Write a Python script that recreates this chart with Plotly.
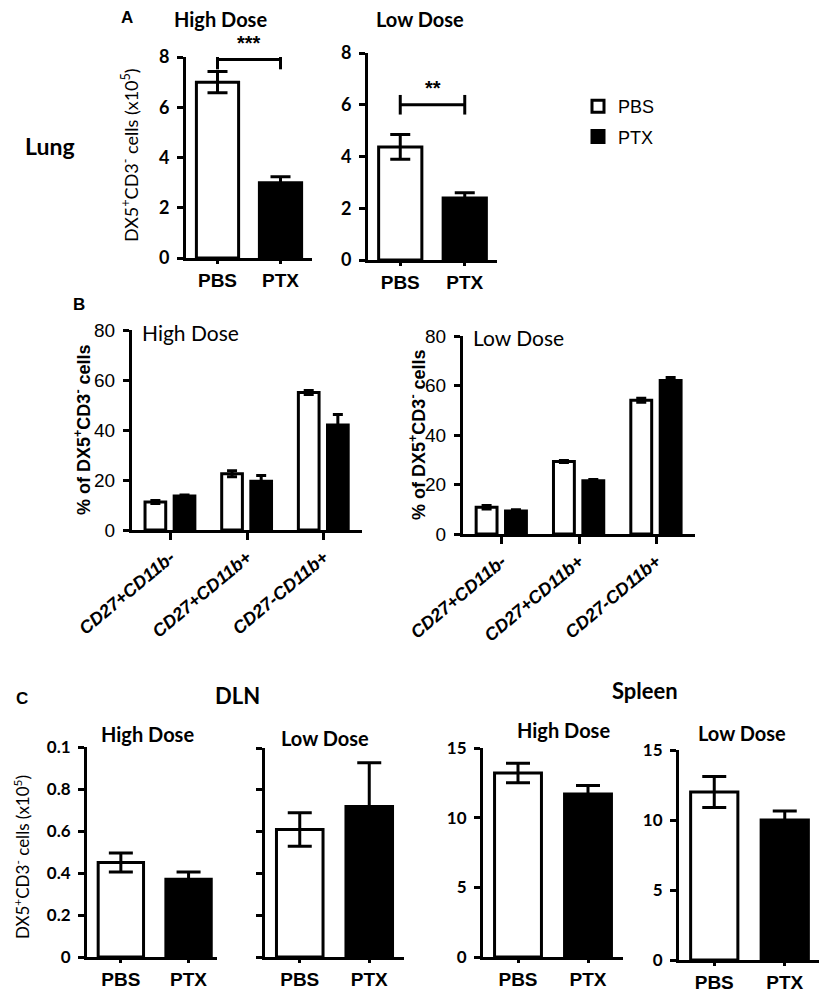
import plotly.graph_objects as go

# ---- data ----
groups = ["PBS", "PTX"]

lung_high = [7.0, 3.0]
lung_high_err = [0.42, 0.23]
lung_low = [4.37, 2.4]
lung_low_err = [0.48, 0.2]
lung_sig_level = [7.9, 6.0]
lung_sig_text = ["***", "**"]

subsets = ["CD27+CD11b-", "CD27+CD11b+", "CD27-CD11b+"]
b_high_pbs = [11.2, 22.5, 55.0]
b_high_pbs_err = [0.6, 1.2, 0.8]
b_high_ptx = [13.6, 19.5, 42.0]
b_high_ptx_err = [0.4, 2.3, 4.2]
b_low_pbs = [10.8, 29.3, 54.0]
b_low_pbs_err = [0.7, 0.4, 0.8]
b_low_ptx = [9.3, 21.5, 62.0]
b_low_ptx_err = [0.5, 0.5, 1.2]

dln_high = [0.45, 0.37]
dln_high_err = [0.045, 0.035]
dln_low = [0.61, 0.72]
dln_low_err = [0.08, 0.21]
dln_tickvals = [0, 0.2, 0.4, 0.6, 0.8, 1.0]
dln_ticktext = ["0", "0.2", "0.4", "0.6", "0.8", "0.1"]

spleen_high = [13.2, 11.7]
spleen_high_err = [0.7, 0.6]
spleen_low = [12.0, 10.0]
spleen_low_err = [1.1, 0.65]

# the page body adds an 8px margin, so the figure is 8px smaller each way
# and all reference pixel positions are shifted by that margin
PAD = 8
W, H = 827 - PAD, 992 - PAD
CAL = "Lato"
ARIAL = "Liberation Sans"


def xd(a, b):
    return [(a - PAD) / W, (b - PAD) / W]


def yd(top, bottom):
    return [1 - (bottom - PAD) / H, 1 - (top - PAD) / H]


fig = go.Figure()

axis_style = dict(showline=True, linecolor="black", linewidth=3, ticks="outside",
                  ticklen=6, tickwidth=3, tickcolor="black", showgrid=False,
                  zeroline=False, fixedrange=True, automargin=False)

panels = [
    dict(x=xd(186, 312), y=yd(57, 258), yr=[0, 8], dtick=2, ticks_font=dict(family=CAL, size=18, weight="bold"), xr=[-0.5, 1.5]),
    dict(x=xd(368, 497), y=yd(53, 260), yr=[0, 8], dtick=2, ticks_font=dict(family=CAL, size=18, weight="bold"), xr=[-0.5, 1.5]),
    dict(x=xd(132, 362), y=yd(330, 530), yr=[0, 80], dtick=20, ticks_font=dict(family=ARIAL, size=19), xr=[-0.5, 2.5]),
    dict(x=xd(463, 695), y=yd(336, 534), yr=[0, 80], dtick=20, ticks_font=dict(family=ARIAL, size=19), xr=[-0.5, 2.5]),
    dict(x=xd(87, 217), y=yd(747, 957), yr=[0, 1.0], tickvals=dln_tickvals, ticktext=dln_ticktext, ticks_font=dict(family=CAL, size=17, weight="bold"), xr=[-0.5, 1.42]),
    dict(x=xd(265, 404), y=yd(748, 957), yr=[0, 1.0], tickvals=dln_tickvals, noticklabels=True, ticks_font=dict(family=CAL, size=17, weight="bold"), xr=[-0.5, 1.5]),
    dict(x=xd(483, 623), y=yd(748, 957), yr=[0, 15], dtick=5, ticks_font=dict(family=CAL, size=17, weight="bold"), xr=[-0.5, 1.5]),
    dict(x=xd(679, 820), y=yd(750, 960), yr=[0, 15], dtick=5, ticks_font=dict(family=CAL, size=17, weight="bold"), xr=[-0.5, 1.5]),
]

layout_axes = {}
for i, p in enumerate(panels, start=1):
    xa = dict(axis_style, domain=p["x"], anchor=f"y{i}", type="category", range=p["xr"],
              ticklen=3, tickfont=dict(family=ARIAL, size=19, weight="bold", color="black"))
    ya = dict(axis_style, domain=p["y"], anchor=f"x{i}", range=p["yr"],
              ticklabelstandoff=4, tickfont=dict(p["ticks_font"], color="black"))
    if "dtick" in p:
        ya.update(tick0=0, dtick=p["dtick"])
    if "tickvals" in p:
        ya.update(tickmode="array", tickvals=p["tickvals"])
        if "ticktext" in p:
            ya.update(ticktext=p["ticktext"])
    if p.get("noticklabels"):
        ya.update(showticklabels=False)
    layout_axes["xaxis" if i == 1 else f"xaxis{i}"] = xa
    layout_axes["yaxis" if i == 1 else f"yaxis{i}"] = ya

# B panels: rotated italic subset labels
for k in ("xaxis3", "xaxis4"):
    layout_axes[k].update(tickangle=-40, ticklen=7,
                          tickfont=dict(family=ARIAL, size=18, weight="bold", style="italic", color="black"))


def pair_bar(vals, errs, idx, cap):
    ax = "" if idx == 1 else str(idx)
    return go.Bar(
        x=groups, y=vals, width=0.67, showlegend=False,
        marker=dict(color=["white", "black"], line=dict(color="black", width=3)),
        error_y=dict(type="data", array=errs, color="black", thickness=3, width=cap),
        xaxis="x" + ax, yaxis="y" + ax, hoverinfo="x+y",
    )


fig.add_trace(pair_bar(lung_high, lung_high_err, 1, 10))
fig.add_trace(pair_bar(lung_low, lung_low_err, 2, 10))
fig.add_trace(pair_bar(dln_high, dln_high_err, 5, 12))
fig.add_trace(pair_bar(dln_low, dln_low_err, 6, 12))
fig.add_trace(pair_bar(spleen_high, spleen_high_err, 7, 12))
fig.add_trace(pair_bar(spleen_low, spleen_low_err, 8, 12))

# panel B grouped bars
for idx, pbs, pbs_err, ptx, ptx_err in [
    (3, b_high_pbs, b_high_pbs_err, b_high_ptx, b_high_ptx_err),
    (4, b_low_pbs, b_low_pbs_err, b_low_ptx, b_low_ptx_err),
]:
    fig.add_trace(go.Bar(
        x=subsets, y=pbs, name="PBS", offset=-0.33, width=0.27,
        marker=dict(color="white", line=dict(color="black", width=3)),
        error_y=dict(type="data", array=pbs_err, color="black", thickness=3, width=5),
        xaxis=f"x{idx}", yaxis=f"y{idx}", showlegend=(idx == 3), legendgroup="PBS",
    ))
    fig.add_trace(go.Bar(
        x=subsets, y=ptx, name="PTX", offset=0.05, width=0.27,
        marker=dict(color="black", line=dict(color="black", width=3)),
        error_y=dict(type="data", array=ptx_err, color="black", thickness=3, width=5),
        xaxis=f"x{idx}", yaxis=f"y{idx}", showlegend=(idx == 3), legendgroup="PTX",
    ))

# significance brackets on the lung panels
annotations = []
for idx, level, label in zip([1, 2], lung_sig_level, lung_sig_text):
    ax = "" if idx == 1 else str(idx)
    fig.add_trace(go.Scatter(
        x=groups, y=[level, level], mode="lines+markers", showlegend=False,
        line=dict(color="black", width=3),
        marker=dict(symbol="line-ns", size=14, line=dict(width=3, color="black")),
        xaxis="x" + ax, yaxis="y" + ax, hoverinfo="skip",
    ))
    annotations.append(dict(x=0.5, y=level, xref="x" + ax, yref="y" + ax, text=label,
                            showarrow=False, yshift=17,
                            font=dict(family=ARIAL, size=20, color="black", weight="bold")))


def label(text, x, y, size, family=CAL, bold=True, angle=0):
    annotations.append(dict(
        text=text, x=(x - PAD) / W, y=1 - (y - PAD) / H, xref="paper", yref="paper",
        showarrow=False, textangle=angle, xanchor="center", yanchor="middle",
        font=dict(family=family, size=size, color="black", weight="bold" if bold else "normal"),
    ))


cells = "DX5<sup>+</sup>CD3<sup>-</sup> cells (x10<sup>5</sup>)"
# panel A
label("A", 127, 17, 17, family=ARIAL)
label("High Dose", 220, 19, 20)
label("Low Dose", 420, 19, 20)
label("Lung", 50, 146, 23)
label(cells, 130, 155, 18, bold=False, angle=-90)
# panel B
label("B", 79, 305, 17, family=ARIAL)
label("High Dose", 190, 332, 21, bold=False)
label("Low Dose", 518, 337, 21, bold=False)
label("% of DX5<sup>+</sup>CD3<sup>-</sup> cells", 82, 430, 18, family=ARIAL, angle=-90)
label("% of DX5<sup>+</sup>CD3<sup>-</sup> cells", 417, 435, 18, family=ARIAL, angle=-90)
# panel C
label("C", 22, 698, 17, family=ARIAL)
label("DLN", 237, 695, 22)
label("Spleen", 645, 690, 22)
label("High Dose", 147, 734, 20)
label("Low Dose", 325, 738, 20)
label("High Dose", 563, 730, 20)
label("Low Dose", 742, 733, 20)
label(cells, 21, 857, 17, bold=False, angle=-90)

fig.update_layout(
    **layout_axes,
    template="none",
    width=W, height=H,
    margin=dict(l=0, r=0, t=0, b=0, autoexpand=False),
    paper_bgcolor="white", plot_bgcolor="white",
    font=dict(color="black"),
    barmode="group",
    annotations=annotations,
    legend=dict(x=(578 - PAD) / W, y=1 - (88 - PAD) / H, xanchor="left", yanchor="top",
                font=dict(family=ARIAL, size=18, color="black"),
                bgcolor="rgba(0,0,0,0)", itemwidth=30, tracegroupgap=4),
)

fig.write_html("out.html")
